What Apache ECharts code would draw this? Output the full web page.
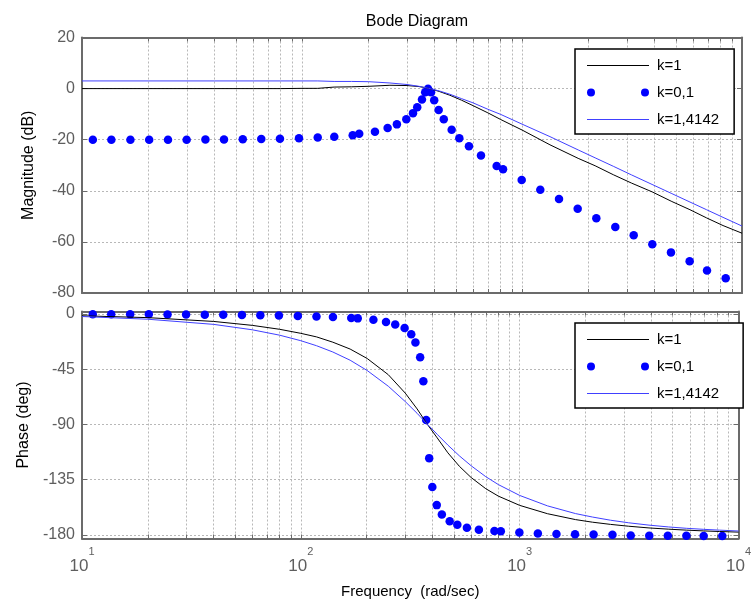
<!DOCTYPE html>
<html>
<head>
<meta charset="utf-8">
<script src="https://cdn.jsdelivr.net/npm/echarts@6/dist/echarts.min.js"></script>
<style>
  html, body { margin: 0; padding: 0; background: #fff; }
  #chart { width: 754px; height: 604px; }
</style>
</head>
<body>
<div id="chart"></div>
<script>
// Frequencies (rad/sec) of the continuous responses
const lineFreq = [10, 20, 40, 60, 80, 100, 118, 140, 168, 201, 251, 300, 340, 377, 420, 470, 530, 600,
  700, 800, 1000, 1340, 1800, 2150, 2600, 3150, 3900, 4800, 5800, 6900, 8200, 10000];
// Magnitude (dB)
const magK1 = [0.0, 0.0, 0.0, 0.0, 0.0, 0.1, 0.1, 0.6, 0.7, 0.9, 1.3, 1.2, 0.8, 0.1, -1.1, -2.6, -4.5, -6.7,
  -9.5, -12.1, -16.2, -22.0, -27.3, -30.2, -33.7, -37.0, -40.4, -44.2, -47.4, -50.6, -53.6, -56.6];
const magK14 = [3.0, 3.0, 3.0, 3.0, 3.0, 3.0, 3.0, 2.8, 2.8, 2.7, 2.2, 1.6, 0.9, 0.1, -0.9, -2.2, -3.9, -5.6,
  -8.1, -10.1, -13.9, -18.8, -24.0, -27.1, -30.4, -33.8, -37.5, -41.1, -44.4, -47.4, -50.4, -53.8];
// Phase (deg)
const phaseK1 = [-1.5, -3.0, -6.1, -9.3, -12.5, -15.8, -18.7, -23.0, -28.6, -36.3, -49.5, -64.5, -77.4, -89.5,
  -101.0, -113.2, -124.1, -133.3, -142.4, -148.5, -156.0, -162.8, -167.6, -169.7, -171.5, -173.0, -174.4,
  -175.4, -176.2, -176.8, -177.3, -177.8];
const phaseK14 = [-2.1, -4.3, -8.5, -12.9, -17.3, -21.8, -25.9, -31.0, -37.7, -46.1, -58.9, -71.4, -81.0, -89.5,
  -98.1, -106.9, -115.6, -123.7, -132.6, -139.1, -147.9, -156.4, -162.7, -165.5, -168.1, -170.2, -172.1,
  -173.6, -174.7, -175.5, -176.2, -176.9];

// Sampled points of the lightly damped response (k=0,1)
const dotFreq = [11.2, 13.6, 16.6, 20.2, 24.6, 29.9, 36.4, 44.2, 53.8, 65.3, 79.4, 96.9, 117.9, 140.2, 170, 182,
  214.6, 245, 270, 298, 319.6, 334, 351, 363, 374, 386, 399, 418, 441, 479, 519, 574, 651, 767, 820, 997, 1211,
  1473, 1791, 2177, 2655, 3219, 3911, 4755, 5781, 6934, 8433];
const magK01 = [-20.0, -20.0, -20.0, -20.0, -20.0, -20.0, -19.9, -19.9, -19.8, -19.7, -19.6, -19.4, -19.1,
  -18.8, -18.3, -17.7, -16.9, -15.4, -14.0, -12.0, -9.6, -7.3, -4.3, -1.4, -0.1, -1.4, -4.6, -8.4, -12.0,
  -16.1, -19.4, -22.6, -26.2, -30.3, -31.6, -35.8, -39.6, -43.2, -47.0, -50.7, -54.2, -57.4, -60.9, -64.1,
  -67.6, -71.2, -74.2];
const phaseK01 = [-0.2, -0.2, -0.3, -0.3, -0.4, -0.5, -0.6, -0.7, -0.8, -1.0, -1.3, -1.6, -2.0, -2.5, -3.2, -3.6,
  -4.8, -6.6, -8.5, -11.4, -16.5, -23.2, -35.2, -54.8, -86.5, -117.5, -141.0, -155.8, -163.5, -169.0, -171.8,
  -174.2, -175.8, -176.8, -177.1, -178.1, -179.0, -179.4, -179.6, -179.8, -180.0, -180.6, -180.7, -180.8,
  -180.8, -180.9, -180.9];

// Axis ticks
const freqGrid = [10, 20, 30, 40, 50, 60, 70, 80, 90, 100, 200, 300, 400, 500, 600, 700, 800, 900,
  1000, 2000, 3000, 4000, 5000, 6000, 7000, 8000, 9000, 10000];
const freqLabels = [10, 100, 1000, 10000];
const magTicks = [-80, -60, -40, -20, 0, 20];
const phaseTicks = [-180, -135, -90, -45, 0];
const seriesNames = ['k=1', 'k=0,1', 'k=1,4142'];

const FONT = 'Liberation Sans, Arial, Helvetica, sans-serif';
const FRAME = '#6b6b6b';
const GRID = '#b8b8b8';
const LABEL = '#5e5e5e';

const pairs = (xs, ys) => xs.map((x, i) => [x, ys[i]]);

function freqAxis(gridIndex, position, withLabels) {
  return {
    type: 'log', logBase: 10, gridIndex, position, min: 10, max: 10000,
    axisLine: { show: true, onZero: false, lineStyle: { color: FRAME, width: 2 } },
    axisTick: { show: true, inside: true, length: 4, customValues: freqGrid, lineStyle: { color: FRAME } },
    splitLine: { show: position === 'bottom', lineStyle: { color: GRID, type: [2, 2], width: 1 } },
    axisLabel: withLabels ? {
      show: true, customValues: freqLabels, margin: 8, color: LABEL, fontFamily: FONT,
      formatter: v => '{b|10}{s|' + Math.round(Math.log10(v)) + '}',
      rich: {
        b: { fontSize: 17, color: LABEL, fontFamily: FONT },
        s: { fontSize: 11, color: LABEL, fontFamily: FONT, padding: [0, 0, 28, 0] }
      }
    } : { show: false },
    name: withLabels ? 'Frequency  (rad/sec)' : '',
    nameLocation: 'middle', nameGap: 46,
    nameTextStyle: { color: '#000', fontSize: 15, fontFamily: FONT }
  };
}

function valueAxis(gridIndex, position, min, max, ticks, name) {
  const main = position === 'left';
  return {
    type: 'value', gridIndex, position, min, max,
    axisLine: { show: true, onZero: false, lineStyle: { color: FRAME, width: 2 } },
    axisTick: { show: true, inside: true, length: 5, customValues: ticks, lineStyle: { color: FRAME } },
    splitLine: { show: main, lineStyle: { color: GRID, type: [2, 2], width: 1 } },
    axisLabel: main ? { show: true, customValues: ticks, margin: 7, color: LABEL, fontSize: 16, fontFamily: FONT }
                    : { show: false },
    name: main ? name : '',
    nameLocation: 'middle', nameGap: 45,
    nameTextStyle: { color: '#000', fontSize: 16, fontFamily: FONT }
  };
}

const linePath = 'path://M0,3.5L62,3.5L62,4.5L0,4.5Z';
const dotsPath = 'path://M0,4a4,4 0 1,0 8,0a4,4 0 1,0 -8,0Z M54,4a4,4 0 1,0 8,0a4,4 0 1,0 -8,0Z';

function legendAt(top, rightPad) {
  return {
    orient: 'vertical', left: 575, top,
    itemWidth: 62, itemHeight: 8, itemGap: 12,
    padding: [9, rightPad, 7, 12],
    borderColor: '#000', borderWidth: 1.5, backgroundColor: '#fff',
    selectedMode: false,
    itemStyle: { borderWidth: 0, opacity: 1 },
    textStyle: { color: '#000', fontSize: 15, fontFamily: FONT, padding: [0, 0, 0, 3] },
    data: [
      { name: seriesNames[0], icon: linePath },
      { name: seriesNames[1], icon: dotsPath },
      { name: seriesNames[2], icon: linePath }
    ]
  };
}

const BLUE_LINE = '#4040ff';
const DOT = '#0000ff';

function seriesFor(axisIdx, k1, k01, k14) {
  return [
    { name: seriesNames[0], type: 'line', xAxisIndex: axisIdx, yAxisIndex: axisIdx, data: pairs(lineFreq, k1),
      symbol: 'none', lineStyle: { color: '#000', width: 1 }, itemStyle: { color: '#000' } },
    { name: seriesNames[1], type: 'scatter', xAxisIndex: axisIdx, yAxisIndex: axisIdx, data: pairs(dotFreq, k01),
      symbol: 'circle', symbolSize: 8.5, itemStyle: { color: DOT, opacity: 1 } },
    { name: seriesNames[2], type: 'line', xAxisIndex: axisIdx, yAxisIndex: axisIdx, data: pairs(lineFreq, k14),
      symbol: 'none', lineStyle: { color: BLUE_LINE, width: 1 }, itemStyle: { color: BLUE_LINE } }
  ];
}

const chart = echarts.init(document.getElementById('chart'), null, { renderer: 'canvas' });
chart.setOption({
  animation: false,
  backgroundColor: '#fff',
  title: {
    text: 'Bode Diagram', left: 412, top: 9, textAlign: 'center',
    textStyle: { color: '#000', fontSize: 16, fontWeight: 'normal', fontFamily: FONT }
  },
  legend: [legendAt(49, 15), legendAt(323, 24)],
  grid: [
    { left: 82, width: 660, top: 37.5, height: 255.5 },
    { left: 82, width: 660, top: 311.5, height: 227 }
  ],
  xAxis: [
    freqAxis(0, 'bottom', false),
    freqAxis(0, 'top', false),
    freqAxis(1, 'bottom', true),
    freqAxis(1, 'top', false)
  ],
  yAxis: [
    valueAxis(0, 'left', -80, 20, magTicks, 'Magnitude (dB)'),
    valueAxis(0, 'right', -80, 20, magTicks, ''),
    valueAxis(1, 'left', -183, 2, phaseTicks, 'Phase (deg)'),
    valueAxis(1, 'right', -183, 2, phaseTicks, '')
  ],
  series: [
    ...seriesFor(0, magK1, magK01, magK14),
    ...seriesFor(2, phaseK1, phaseK01, phaseK14)
  ]
});
</script>
</body>
</html>
